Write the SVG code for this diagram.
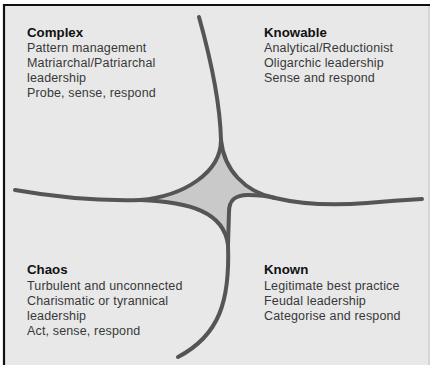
<svg xmlns="http://www.w3.org/2000/svg" width="430" height="365" viewBox="0 0 430 365">
  <style>
    .h { font-family: "Liberation Sans", Arial, sans-serif; font-size: 13.3px; font-weight: bold; fill: #111; }
    .t { font-family: "Liberation Sans", Arial, sans-serif; font-size: 12.5px; letter-spacing: 0.15px; fill: #383838; }
    .ln { fill: none; stroke: #555; stroke-width: 4; stroke-linecap: round; }
  </style>
  <rect x="0" y="0" width="430" height="365" fill="#ffffff"/>
  <rect x="4" y="5" width="426" height="360" fill="#e8e8e8"/>
  <path d="M4,365 V5 H430" fill="none" stroke="#111" stroke-width="2.2"/>
  <line x1="429" y1="6" x2="429" y2="365" stroke="#c4c4c4" stroke-width="1"/>

  <g id="connectors">
    <path id="disorder" d="M221,140 C224,170 245,192 275,198 C268,196 260,195 248,195 C235,195 229,200 229,212 L228,245 C224,212 190,202 140,200 C185,196 221,172 221,140 Z" fill="#c9c9c9"/>
    <path class="ln" d="M199,17 C211,60 220,100 221,140"/>
    <path class="ln" d="M221,140 C221,172 185,196 140,200"/>
    <path class="ln" d="M221,140 C224,170 245,192 275,198"/>
    <path class="ln" d="M15,190 C60,198 100,201 140,200"/>
    <path class="ln" d="M275,198 C300,204 330,206 367,203 C390,201 405,200 422,199"/>
    <path class="ln" d="M140,200 C190,202 224,212 228,245"/>
    <path class="ln" d="M228,245 L229,212 C229,200 235,195 248,195 C260,195 268,196 275,198"/>
    <path class="ln" d="M228,245 C230,300 220,335 178,357"/>
  </g>

  <g id="complex">
    <text class="h" x="27" y="37">Complex</text>
    <text class="t" x="27" y="52">Pattern management</text>
    <text class="t" x="27" y="67">Matriarchal/Patriarchal</text>
    <text class="t" x="27" y="82">leadership</text>
    <text class="t" x="27" y="97">Probe, sense, respond</text>
  </g>

  <g id="knowable">
    <text class="h" x="264" y="37">Knowable</text>
    <text class="t" x="264" y="52">Analytical/Reductionist</text>
    <text class="t" x="264" y="67">Oligarchic leadership</text>
    <text class="t" x="264" y="82">Sense and respond</text>
  </g>

  <g id="chaos">
    <text class="h" x="27" y="274">Chaos</text>
    <text class="t" x="27" y="290">Turbulent and unconnected</text>
    <text class="t" x="27" y="305">Charismatic or tyrannical</text>
    <text class="t" x="27" y="320">leadership</text>
    <text class="t" x="27" y="335">Act, sense, respond</text>
  </g>

  <g id="known">
    <text class="h" x="264" y="274">Known</text>
    <text class="t" x="264" y="290">Legitimate best practice</text>
    <text class="t" x="264" y="305">Feudal leadership</text>
    <text class="t" x="264" y="320">Categorise and respond</text>
  </g>
</svg>
